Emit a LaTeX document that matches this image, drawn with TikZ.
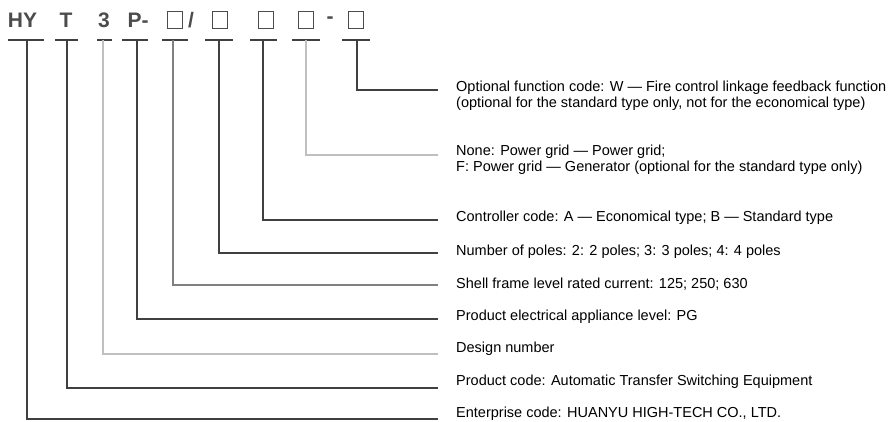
\documentclass[tikz,border=0pt]{standalone}
\usepackage{fontspec}
\setmainfont{Liberation Sans}
\usepackage{tikz}
\usetikzlibrary{calc}

\tikzset{
  dk/.style = {draw = black!75, line width = 1.3pt},
  md/.style = {draw = black!50, line width = 1.3pt},
  lt/.style = {draw = black!25, line width = 1.3pt},
  code/.style = {inner sep = 0pt, text = black!70, font = \fontsize{21}{21}\selectfont\bfseries},
  box/.style = {draw = black!70, line width = 1.2pt, minimum width = 15pt, minimum height = 17pt, inner sep = 0pt},
  lbl/.style = {anchor = west, inner xsep = 18pt, inner ysep = 0pt, align = left, font = \fontsize{14.5}{16}\selectfont}
}

\begin{document}
\begin{tikzpicture}[x = 1pt, y = -1pt]
            \useasboundingbox(0,0)rectangle(893,421);

            % model code
            \node[code](cHY)at(22.5,20){HY};
            \node[code](cT)at(66,20){T};
            \node[code](c3)at(104,20){3};
            \node[code](cP)at(138,20){P-};
            \node[box](b1)at(175,20){};
            \node[code](cSl)at(191,20){/};
            \node[box](b2)at(220,20){};
            \node[box](b3)at(266,20){};
            \node[box](b4)at(306,20){};
            \node[code](cDs)at(330,20){-};
            \node[box](b5)at(356,20){};

            % underlines
            \coordinate(uHY)at(27,40);
            \coordinate(uT)at(67,40);
            \coordinate(u3)at(103,40);
            \coordinate(uP)at(137,40);
            \coordinate(uB1)at(173,40);
            \coordinate(uB2)at(219,40);
            \coordinate(uB3)at(263,40);
            \coordinate(uB4)at(306,40);
            \coordinate(uB5)at(357,40);
            \path[draw, dk](8,40)to(44,40);
            \path[draw, dk](55,40)to(78,40);
            \path[draw, dk](97,40)to(112,40);
            \path[draw, dk](122,40)to(148,40);
            \path[draw, dk](162,40)to(188,40);
            \path[draw, dk](205,40)to(233,40);
            \path[draw, dk](250,40)to(277,40);
            \path[draw, dk](292,40)to(320,40);
            \path[draw, dk](342,40)to(370,40);

            % line ends
            \coordinate(kOpt)at(438,90);
            \coordinate(kGrid)at(438,155);
            \coordinate(kCtrl)at(438,220);
            \coordinate(kPole)at(438,253);
            \coordinate(kShell)at(438,285);
            \coordinate(kLevel)at(438,319);
            \coordinate(kDes)at(438,354);
            \coordinate(kProd)at(438,388);
            \coordinate(kEnt)at(438,419);

            % connectors
            \path[draw, dk](uB5)|-(kOpt);
            \path[draw, lt](uB4)|-(kGrid);
            \path[draw, dk](uB3)|-(kCtrl);
            \path[draw, dk](uB2)|-(kPole);
            \path[draw, md](uB1)|-(kShell);
            \path[draw, dk](uP)|-(kLevel);
            \path[draw, lt](u3)|-(kDes);
            \path[draw, dk](uT)|-(kProd);
            \path[draw, dk](uHY)|-(kEnt);

            % labels
            \node[lbl](lOpt)at(438,95.5){Optional function code: W — Fire control linkage feedback function\\(optional for the standard type only, not for the economical type)};
            \node[lbl](lGrid)at(438,160){None: Power grid — Power grid;\\F: Power grid — Generator (optional for the standard type only)};
            \node[lbl](lCtrl)at(438,218){Controller code: A — Economical type; B — Standard type};
            \node[lbl](lPole)at(438,252){Number of poles: 2: 2 poles; 3: 3 poles; 4: 4 poles};
            \node[lbl](lShell)at(438,284){Shell frame level rated current: 125; 250; 630};
            \node[lbl](lLevel)at(438,317){Product electrical appliance level: PG};
            \node[lbl](lDes)at(438,349){Design number};
            \node[lbl](lProd)at(438,382){Product code: Automatic Transfer Switching Equipment};
            \node[lbl](lEnt)at(438,414){Enterprise code: HUANYU HIGH-TECH CO., LTD.};
        \end{tikzpicture}
\end{document}
